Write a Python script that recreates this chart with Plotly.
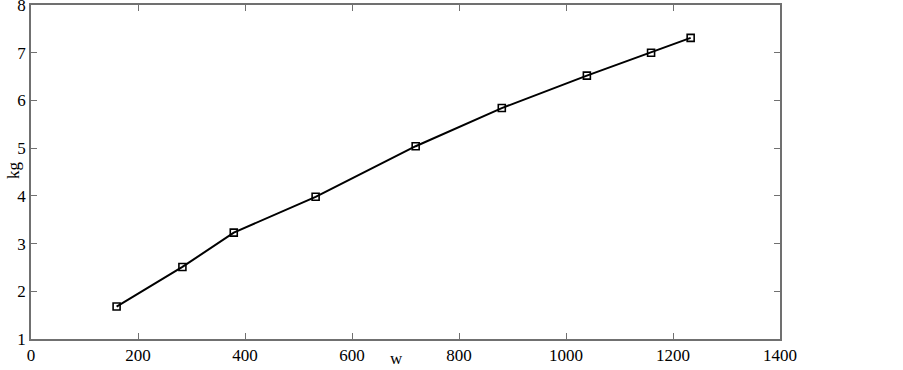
import plotly.graph_objects as go

w_values = [160, 283, 379, 532, 719, 880, 1039, 1159, 1233]
kg_values = [1.68, 2.51, 3.23, 3.98, 5.04, 5.84, 6.52, 7.00, 7.31]
x_ticks = [0, 200, 400, 600, 800, 1000, 1200, 1400]
y_ticks = [1, 2, 3, 4, 5, 6, 7, 8]
x_title = "w"
y_title = "kg"

FONT = "Liberation Serif, Times New Roman, serif"

fig = go.Figure()
fig.add_trace(go.Scatter(
    x=w_values, y=kg_values, mode="lines+markers",
    line=dict(color="black", width=2),
    marker=dict(symbol="square-open", size=7, color="black", line=dict(width=1.6, color="black")),
    showlegend=False,
))

axis_common = dict(
    showline=True, linecolor="#707070", linewidth=1.5, mirror="ticks",
    ticks="inside", ticklen=6, tickwidth=1, tickcolor="#707070",
    showgrid=False, zeroline=False, ticklabeloverflow="allow",
    tickfont=dict(family=FONT, size=17, color="black"),
)

fig.update_xaxes(range=[0, 1400], tickvals=x_ticks, ticktext=[str(v) for v in x_ticks], **axis_common)
fig.update_yaxes(range=[1, 8], tickvals=y_ticks, ticktext=[str(v) for v in y_ticks], **axis_common)

fig.add_annotation(text=x_title, xref="paper", yref="paper", x=0.488, y=0,
                   xanchor="center", yanchor="middle", yshift=-19, showarrow=False,
                   font=dict(family=FONT, size=17, color="black"))
fig.add_annotation(text=y_title, xref="paper", yref="paper", x=0, y=0.506,
                   xanchor="center", yanchor="middle", xshift=-17, textangle=-90, showarrow=False,
                   font=dict(family=FONT, size=17, color="black"))

fig.update_layout(
    width=903, height=370,
    margin=dict(l=31, r=123, t=5, b=31, autoexpand=False),
    plot_bgcolor="white", paper_bgcolor="white",
)

fig.write_html("out.html", config={"displayModeBar": False},
               post_script="document.body.style.margin='0';")
